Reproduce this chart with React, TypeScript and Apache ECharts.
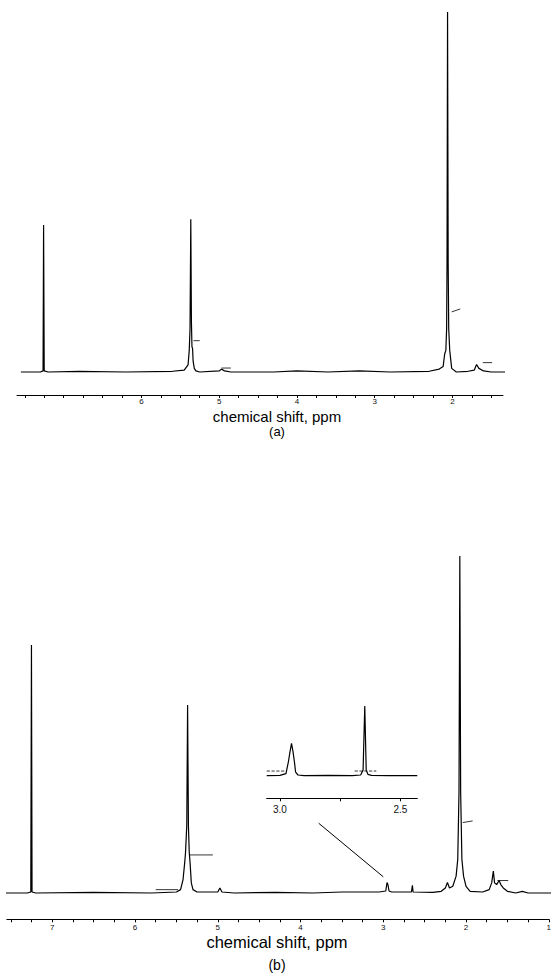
import React, { useEffect, useRef } from "react";
import * as echarts from "echarts";

// ---- Spectrum (a): [ppm, intensity] ----
const spectrumA: number[][] = [
  [7.55, 0], [7.3, 0], [7.265, 0.3], [7.258, 40.8], [7.25, 0.3], [7.2, 0], [6.8, 0.2], [6.2, 0],
  [5.6, 0.2], [5.45, 0.5], [5.4, 2], [5.385, 6], [5.375, 12], [5.365, 42.4], [5.357, 14],
  [5.35, 7], [5.342, 6.5], [5.335, 3], [5.32, 1], [5.3, 0.3], [5.25, 0], [5.0, 0.3], [4.97, 0.8],
  [4.93, 0.3], [4.85, 0], [4.3, 0], [4.0, 0.3], [3.6, 0], [3.2, 0.3], [2.8, 0], [2.3, 0.2],
  [2.17, 0.8], [2.12, 1.5], [2.1, 5], [2.085, 6], [2.075, 12], [2.07, 30], [2.063, 100], [2.055, 30],
  [2.048, 12], [2.035, 6], [2.025, 4], [2.01, 1], [1.95, 0], [1.8, 0.2], [1.72, 0.5], [1.69, 2.1],
  [1.66, 1], [1.6, 0.3], [1.5, 0], [1.29, 0],
];

// ---- Spectrum (b) ----
const spectrumB: number[][] = [
  [7.62, 0], [7.3, 0], [7.26, 0.3], [7.252, 73.6], [7.245, 0.3], [7.2, 0], [6.5, 0.2], [5.8, 0],
  [5.5, 0.3], [5.45, 1], [5.42, 4], [5.4, 9], [5.39, 12], [5.375, 20], [5.365, 55.8], [5.355, 20],
  [5.345, 12], [5.335, 9], [5.32, 3], [5.3, 1], [5.25, 0.3], [5.0, 0.3], [4.975, 1.5], [4.95, 0.3],
  [4.8, 0], [4.3, 0.2], [3.85, 0], [3.5, 0.3], [3.05, 0.3], [2.97, 0.6], [2.955, 3.1], [2.945, 2.6],
  [2.93, 0.6], [2.9, 0.3], [2.66, 0.3], [2.648, 2.3], [2.64, 0.3], [2.4, 0.2], [2.3, 0.5],
  [2.25, 1.5], [2.225, 3.1], [2.2, 1.5], [2.16, 2], [2.12, 5], [2.1, 10], [2.085, 30], [2.075, 100],
  [2.065, 30], [2.05, 10], [2.03, 5], [2.0, 2], [1.95, 0.5], [1.8, 0.3], [1.72, 1], [1.69, 3],
  [1.67, 6.5], [1.655, 3], [1.63, 2.5], [1.6, 3.7], [1.58, 2.5], [1.55, 1.5], [1.5, 0.5], [1.4, 0],
  [1.32, 0.5], [1.25, 0], [0.6, 0],
];

// ---- Inset spectrum (b, 3.05–2.43 ppm) ----
const spectrumInset: number[][] = [
  [3.055, 0], [3.0, 0.5], [2.975, 3], [2.965, 20], [2.958, 35], [2.952, 46.5], [2.946, 35],
  [2.94, 20], [2.935, 5], [2.925, 1], [2.9, 0], [2.8, 0.5], [2.7, 0], [2.665, 1], [2.655, 8],
  [2.648, 100], [2.642, 8], [2.635, 2], [2.62, 0.5], [2.55, 0], [2.43, 0],
];

// ---- Integral traces ----
const integralsA: number[][][] = [
  [[5.33, 8.7], [5.25, 8.7]],
  [[2.01, 16.7], [1.9, 17.5]],
  [[1.61, 2.6], [1.49, 2.6]],
  [[4.97, 1.1], [4.85, 1.1]],
];
const integralsB: number[][][] = [
  [[5.34, 11.3], [5.06, 11.3]],
  [[5.75, 1.0], [5.48, 1.0]],
  [[2.04, 20.9], [1.92, 21.4]],
  [[1.62, 3.7], [1.49, 3.7]],
];
const integralsInset: number[][][] = [
  [[3.055, 6.7], [2.98, 6.7]],
  [[2.69, 6.7], [2.6, 6.7]],
];

// ---- Axis ticks / labels ----
const ticksA = [7.5, 7.25, 7, 6.75, 6.5, 6.25, 6, 5.75, 5.5, 5.25, 5, 4.75, 4.5, 4.25, 4, 3.75, 3.5, 3.25, 3, 2.75, 2.5, 2.25, 2, 1.75, 1.5];
const labelsA = [6, 5, 4, 3, 2];
const ticksB = [7.5, 7.25, 7, 6.75, 6.5, 6.25, 6, 5.75, 5.5, 5.25, 5, 4.75, 4.5, 4.25, 4, 3.75, 3.5, 3.25, 3, 2.75, 2.5, 2.25, 2, 1.75, 1.5, 1.25, 1];
const labelsB = [7, 6, 5, 4, 3, 2, 1];
const ticksInset = [3.0, 2.75, 2.5];
const labelsInset = [3.0, 2.5];

// arrow from inset to the 2.9 ppm region
const arrowFrom = [3.78, 20.7];
const arrowTo = [3.0, 4.8];

const FONT = "'Liberation Sans', Arial, sans-serif";

function xAxis(gridIndex: number, min: number, max: number, ticks: number[], labels: number[], fontSize: number, fmt: (v: number) => string, margin: number) {
  return {
    type: "value",
    gridIndex,
    min,
    max,
    inverse: true,
    splitLine: { show: false },
    axisLine: { show: true, onZero: false, lineStyle: { color: "#000", width: 1 } },
    axisTick: { show: true, customValues: ticks, length: 3, lineStyle: { color: "#000", width: 1 } },
    axisLabel: { show: true, customValues: labels, fontSize, color: "#111", fontFamily: FONT, margin, formatter: fmt },
  };
}

function yAxis(gridIndex: number, min: number, max: number) {
  return { type: "value", gridIndex, min, max, show: false, splitLine: { show: false } };
}

function line(data: number[][], idx: number, width = 1.2, type = "solid") {
  return {
    type: "line",
    xAxisIndex: idx,
    yAxisIndex: idx,
    data,
    symbol: "none",
    showSymbol: false,
    silent: true,
    lineStyle: { color: "#000", width, type },
  };
}

export default function App() {
  const ref = useRef<HTMLDivElement>(null);
  useEffect(() => {
    if (!ref.current) return;
    const chart = echarts.init(ref.current, null, { renderer: "svg" });
    const mainB: any = line(spectrumB, 1);
    mainB.markLine = {
      silent: true,
      symbol: ["none", "arrow"],
      symbolSize: [0, 7],
      label: { show: false },
      lineStyle: { color: "#000", width: 1, type: "solid" },
      data: [[{ coord: arrowFrom }, { coord: arrowTo }]],
    };
    chart.setOption({
      animation: false,
      backgroundColor: "#fff",
      grid: [
        { left: 17, width: 486, top: 12, height: 383 },
        { left: 6.8, width: 546.9, top: 556, height: 363.3 },
        { left: 266.7, width: 150.6, top: 706, height: 92.3 },
      ],
      xAxis: [
        xAxis(0, 1.35, 7.6, ticksA, labelsA, 8, (v: number) => String(v), 2),
        xAxis(1, 1.0, 7.55, ticksB, labelsB, 8, (v: number) => String(v), 4),
        xAxis(2, 2.43, 3.055, ticksInset, labelsInset, 10, (v: number) => v.toFixed(1), 6),
      ],
      yAxis: [yAxis(0, -6.39, 100), yAxis(1, -7.8, 100), yAxis(2, -32.4, 100)],
      series: [
        line(spectrumA, 0),
        mainB,
        line(spectrumInset, 2),
        ...integralsA.map((d) => line(d, 0, 0.8)),
        ...integralsB.map((d) => line(d, 1, 0.8)),
        ...integralsInset.map((d) => line(d, 2, 0.8, "dashed")),
      ],
      graphic: [
        { type: "text", x: 277, y: 416, style: { text: "chemical shift, ppm", fontSize: 15, fontFamily: FONT, fill: "#000", textAlign: "center", textVerticalAlign: "middle" } },
        { type: "text", x: 277, y: 431, style: { text: "(a)", fontSize: 13, fontFamily: FONT, fill: "#000", textAlign: "center", textVerticalAlign: "middle" } },
        { type: "text", x: 277, y: 942, style: { text: "chemical shift, ppm", fontSize: 16.5, fontFamily: FONT, fill: "#000", textAlign: "center", textVerticalAlign: "middle" } },
        { type: "text", x: 277, y: 965, style: { text: "(b)", fontSize: 14, fontFamily: FONT, fill: "#000", textAlign: "center", textVerticalAlign: "middle" } },
      ],
    });
    return () => chart.dispose();
  }, []);
  return (
    <div
      ref={ref}
      style={{ position: "absolute", left: 0, top: 0, width: 554, height: 976, background: "#fff" }}
    />
  );
}
